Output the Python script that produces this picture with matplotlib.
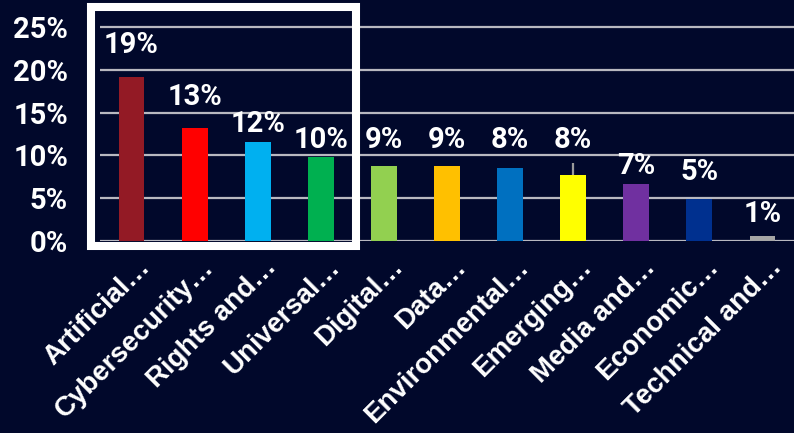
import matplotlib
matplotlib.use("Agg")
import matplotlib.pyplot as plt
from matplotlib.patches import Rectangle
from matplotlib.transforms import ScaledTranslation

# ---- data ----
categories = ["Artificial…", "Cybersecurity…", "Rights and…", "Universal…", "Digital…",
              "Data…", "Environmental…", "Emerging…", "Media and…", "Economic…",
              "Technical and…"]
values = [19.1, 13.2, 11.5, 9.8, 8.8, 8.7, 8.5, 7.7, 6.6, 4.9, 0.55]
value_labels = ["19%", "13%", "12%", "10%", "9%", "9%", "8%", "8%", "7%", "5%", "1%"]
y_ticks = [0, 5, 10, 15, 20, 25]
y_tick_labels = ["0%", "5%", "10%", "15%", "20%", "25%"]
emerging_whisker_top = 9.1

# ---- styles ----
bar_colors = ["#931a25", "#ff0000", "#00b0f0", "#00b050", "#92d050", "#ffc000",
              "#0070c0", "#ffff00", "#7030a0", "#00308f", "#a6a6a6"]
label_offsets_px = [32, 31, 18, 17, 26, 26, 28, 35, 18.5, 27.5, 22]
bg = "#01082b"

fig = plt.figure(figsize=(7.94, 4.33), dpi=100, facecolor=bg)
ax = fig.add_axes([100/794, 192/433, 694/794, 221/433], facecolor=bg)

x = list(range(len(categories)))
ax.bar(x, values, width=0.41, color=bar_colors, zorder=3)
ax.set_xlim(-0.5, len(categories) - 0.5)
ax.set_ylim(0, 25.8)

for yv in y_ticks:
    ax.axhline(yv, color="#b8b8c0", lw=1.6, zorder=1)

# small whisker above "Emerging" bar
ax.vlines(7, values[7], emerging_whisker_top, color="#9a9a9a", lw=1.6, zorder=4)

for sp in ax.spines.values():
    sp.set_visible(False)

ax.set_yticks(y_ticks)
ax.set_yticklabels(y_tick_labels, family="Roboto", fontweight="bold", fontsize=21, color="white")
ax.tick_params(axis="y", length=0, pad=23)
ax.set_xticks([])

# value labels
for i, (v, lab) in enumerate(zip(values, value_labels)):
    ax.annotate(lab, (i, v), xytext=(0, label_offsets_px[i] * 0.72), textcoords="offset points",
                ha="center", va="center", family="Roboto", fontweight="bold",
                fontsize=21, color="white", zorder=5)

# category labels
off = ScaledTranslation(20/100, -27/100, fig.dpi_scale_trans)
for i, c in enumerate(categories):
    ax.text(i, 0, c, transform=ax.get_xaxis_transform() + off, rotation=45,
            rotation_mode="anchor", ha="right", va="baseline",
            family="Liberation Sans", fontweight="bold", fontsize=20, color="white",
            clip_on=False)

# highlight rectangle around first four bars
rect = Rectangle((-0.65, -0.64), 4.2, 27.94, fill=False, edgecolor="white",
                 lw=5.8, clip_on=False, zorder=6)
ax.add_patch(rect)

fig.savefig("out.png", dpi=100, facecolor=bg)
